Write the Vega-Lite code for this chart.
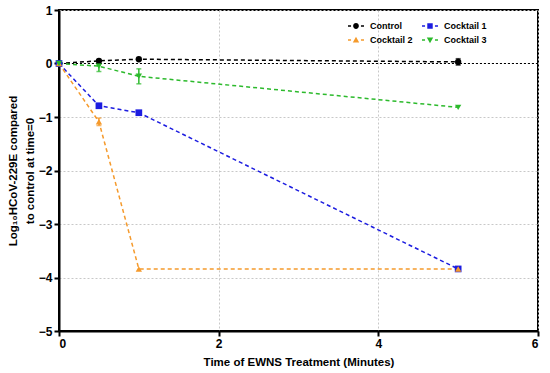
{
  "$schema": "https://vega.github.io/schema/vega-lite/v6.json",
  "width": 479,
  "height": 321,
  "autosize": {"type": "none"},
  "padding": {"left": 59, "top": 10, "right": 12, "bottom": 42},
  "background": "white",
  "config": {
    "font": "Liberation Sans",
    "view": {"stroke": "black", "strokeWidth": 2},
    "axis": {
      "domainColor": "black", "domainWidth": 2,
      "tickColor": "black", "tickWidth": 2, "tickSize": 5,
      "labelFont": "Liberation Sans", "labelFontWeight": "bold", "labelFontSize": 12, "labelColor": "black",
      "titleFont": "Liberation Sans", "titleFontWeight": "bold", "titleFontSize": 11.5, "titleColor": "black",
      "gridColor": "#c8c8c8", "gridDash": [2, 2], "gridWidth": 1
    }
  },
  "datasets": {
    "pts": [
      {"series": "Control", "t": 0, "v": 0},
      {"series": "Control", "t": 0.5, "v": 0.05},
      {"series": "Control", "t": 1, "v": 0.08},
      {"series": "Control", "t": 5, "v": 0.03},
      {"series": "Cocktail 1", "t": 0, "v": 0},
      {"series": "Cocktail 1", "t": 0.5, "v": -0.79},
      {"series": "Cocktail 1", "t": 1, "v": -0.92},
      {"series": "Cocktail 1", "t": 5, "v": -3.84},
      {"series": "Cocktail 2", "t": 0, "v": 0},
      {"series": "Cocktail 2", "t": 0.5, "v": -1.09},
      {"series": "Cocktail 2", "t": 1, "v": -3.84},
      {"series": "Cocktail 2", "t": 5, "v": -3.84},
      {"series": "Cocktail 3", "t": 0, "v": 0},
      {"series": "Cocktail 3", "t": 0.5, "v": -0.05},
      {"series": "Cocktail 3", "t": 1, "v": -0.24},
      {"series": "Cocktail 3", "t": 5, "v": -0.82}
    ],
    "err": [
      {"series": "Control", "t": 5, "lo": -0.03, "hi": 0.09},
      {"series": "Cocktail 1", "t": 0.5, "lo": -0.82, "hi": -0.76},
      {"series": "Cocktail 2", "t": 0.5, "lo": -1.16, "hi": -1.02},
      {"series": "Cocktail 3", "t": 0.5, "lo": -0.15, "hi": 0.05},
      {"series": "Cocktail 3", "t": 1, "lo": -0.38, "hi": -0.1}
    ],
    "zero": [{"v": 0}]
  },
  "layer": [
    {
      "data": {"name": "zero"},
      "mark": {"type": "rule", "color": "black", "strokeDash": [2, 2], "strokeWidth": 1},
      "encoding": {
        "y": {"field": "v", "type": "quantitative", "scale": {"domain": [-5, 1]},
              "axis": {"values": [-5, -4, -3, -2, -1, 0, 1], "format": "d", "grid": true, "titlePadding": 3, "titleLineHeight": 17},
              "title": ["Log₁₀HCoV-229E compared", "to control at time=0"]}
      }
    },
    {
      "data": {"name": "pts"},
      "mark": {"type": "line", "strokeDash": [4, 3], "strokeWidth": 1.5},
      "encoding": {
        "x": {"field": "t", "type": "quantitative", "scale": {"domain": [0, 6]},
              "axis": {"values": [0, 2, 4, 6], "format": "d", "grid": true, "titlePadding": 7},
              "title": "Time of EWNS Treatment (Minutes)"},
        "y": {"field": "v", "type": "quantitative", "scale": {"domain": [-5, 1]},
              "title": ["Log₁₀HCoV-229E compared", "to control at time=0"]},
        "color": {"field": "series", "type": "nominal",
                  "scale": {"domain": ["Control", "Cocktail 1", "Cocktail 2", "Cocktail 3"],
                            "range": ["#000000", "#1c1ce0", "#f59a2c", "#2cba2c"]},
                  "legend": null}
      }
    },
    {
      "data": {"name": "err"},
      "mark": {"type": "errorbar", "ticks": true, "thickness": 1.5},
      "encoding": {
        "x": {"field": "t", "type": "quantitative", "title": "Time of EWNS Treatment (Minutes)"},
        "y": {"field": "lo", "type": "quantitative", "title": ["Log₁₀HCoV-229E compared", "to control at time=0"]},
        "y2": {"field": "hi"},
        "color": {"field": "series", "type": "nominal", "legend": null}
      }
    },
    {
      "data": {"name": "pts"},
      "transform": [{"filter": "datum.series === 'Control'"}],
      "mark": {"type": "point", "filled": true, "opacity": 1, "size": 40, "shape": "circle"},
      "encoding": {
        "x": {"field": "t", "type": "quantitative", "title": "Time of EWNS Treatment (Minutes)"},
        "y": {"field": "v", "type": "quantitative", "title": ["Log₁₀HCoV-229E compared", "to control at time=0"]},
        "color": {"field": "series", "type": "nominal", "legend": null}
      }
    },
    {
      "data": {"name": "pts"},
      "transform": [{"filter": "datum.series === 'Cocktail 1'"}],
      "mark": {"type": "point", "filled": true, "opacity": 1, "size": 45, "shape": "square"},
      "encoding": {
        "x": {"field": "t", "type": "quantitative", "title": "Time of EWNS Treatment (Minutes)"},
        "y": {"field": "v", "type": "quantitative", "title": ["Log₁₀HCoV-229E compared", "to control at time=0"]},
        "color": {"field": "series", "type": "nominal", "legend": null}
      }
    },
    {
      "data": {"name": "pts"},
      "transform": [{"filter": "datum.series === 'Cocktail 2'"}],
      "mark": {"type": "point", "filled": true, "opacity": 1, "size": 40, "shape": "triangle-up"},
      "encoding": {
        "x": {"field": "t", "type": "quantitative", "title": "Time of EWNS Treatment (Minutes)"},
        "y": {"field": "v", "type": "quantitative", "title": ["Log₁₀HCoV-229E compared", "to control at time=0"]},
        "color": {"field": "series", "type": "nominal", "legend": null}
      }
    },
    {
      "data": {"name": "pts"},
      "transform": [{"filter": "datum.series === 'Cocktail 3'"}],
      "mark": {"type": "point", "filled": true, "opacity": 1, "size": 40, "shape": "triangle-down"},
      "encoding": {
        "x": {"field": "t", "type": "quantitative", "title": "Time of EWNS Treatment (Minutes)"},
        "y": {"field": "v", "type": "quantitative", "title": ["Log₁₀HCoV-229E compared", "to control at time=0"]},
        "color": {"field": "series", "type": "nominal", "legend": null}
      }
    },
    {
      "data": {"name": "pts"},
      "mark": {"type": "point", "filled": true, "opacity": 0},
      "encoding": {
        "x": {"field": "t", "type": "quantitative", "title": "Time of EWNS Treatment (Minutes)"},
        "y": {"field": "v", "type": "quantitative", "title": ["Log₁₀HCoV-229E compared", "to control at time=0"]},
        "fill": {"field": "series", "type": "nominal",
                 "scale": {"domain": ["Control", "Cocktail 2", "Cocktail 1", "Cocktail 3"],
                           "range": ["#000000", "#f59a2c", "#1c1ce0", "#2cba2c"]},
                 "legend": {"title": null, "orient": "none", "legendX": 289, "legendY": 8, "columns": 2,
                            "symbolSize": 256, "symbolOpacity": 1, "symbolStrokeWidth": 0,
                            "labelFont": "Liberation Sans", "labelFontWeight": "bold", "labelFontSize": 9,
                            "labelColor": "black", "labelOffset": 6, "columnPadding": 9, "rowPadding": 1}},
        "shape": {"field": "series", "type": "nominal",
                  "scale": {"domain": ["Control", "Cocktail 2", "Cocktail 1", "Cocktail 3"],
                            "range": [
                              "M-1,-0.09H-0.62V0.09H-1Z M0.62,-0.09H1V0.09H0.62Z M0.36,0A0.36,0.36 0 1,1 -0.36,0A0.36,0.36 0 1,1 0.36,0Z",
                              "M-1,-0.09H-0.62V0.09H-1Z M0.62,-0.09H1V0.09H0.62Z M0,-0.4L0.4,0.3H-0.4Z",
                              "M-1,-0.09H-0.62V0.09H-1Z M0.62,-0.09H1V0.09H0.62Z M-0.34,-0.34H0.34V0.34H-0.34Z",
                              "M-1,-0.09H-0.62V0.09H-1Z M0.62,-0.09H1V0.09H0.62Z M0,0.4L0.4,-0.3H-0.4Z"
                            ]},
                  "legend": {"title": null, "orient": "none", "legendX": 289, "legendY": 8, "columns": 2,
                            "symbolSize": 256, "symbolOpacity": 1, "symbolStrokeWidth": 0,
                            "labelFont": "Liberation Sans", "labelFontWeight": "bold", "labelFontSize": 9,
                            "labelColor": "black", "labelOffset": 6, "columnPadding": 9, "rowPadding": 1}}
      }
    }
  ]
}
